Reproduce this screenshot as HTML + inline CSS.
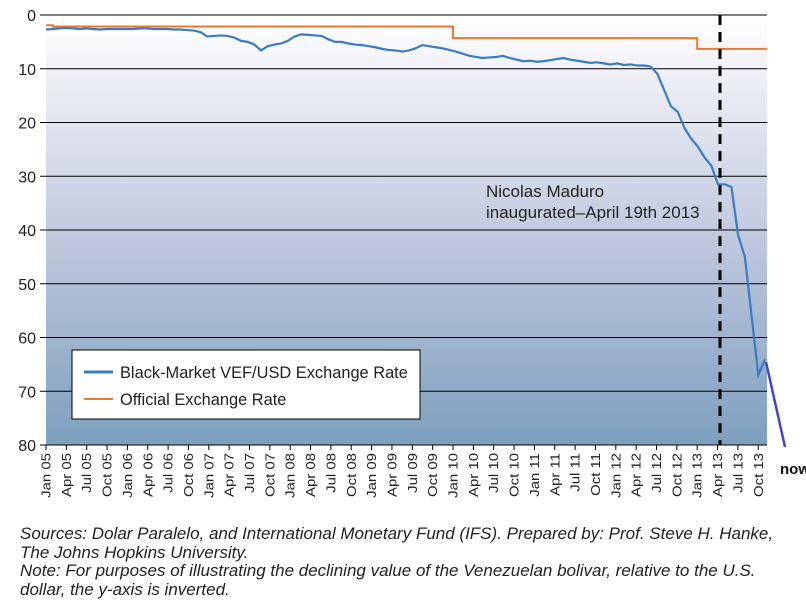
<!DOCTYPE html>
<html><head><meta charset="utf-8"><style>
body{margin:0;background:#fff;width:806px;height:604px;overflow:hidden;font-family:"Liberation Sans",sans-serif}
svg text{font-family:"Liberation Sans",sans-serif}
.src{position:absolute;left:20px;font-style:italic;font-size:17px;color:#222;line-height:18.5px;white-space:nowrap}
</style></head><body>
<svg id="chart" width="806" height="604" style="position:absolute;left:0;top:0">
<defs><linearGradient id="bg" x1="0" y1="0" x2="0" y2="1"><stop offset="0" stop-color="#ffffff"/><stop offset="0.5" stop-color="#c3cadf"/><stop offset="1" stop-color="#7d9fbd"/></linearGradient></defs>
<rect x="46" y="15" width="721" height="430" fill="url(#bg)"/>
<g id="grid"></g><g id="yt"></g><g id="xt"></g><g id="series"></g>
<line x1="720" y1="15" x2="720" y2="445" stroke="#000" stroke-width="3" stroke-dasharray="10,7"/>
<text x="486" y="197" font-size="17" fill="#222">Nicolas Maduro</text>
<text x="486" y="218" font-size="17" fill="#222">inaugurated–April 19th 2013</text>
<g>
<rect x="72" y="350" width="348" height="69" fill="#fff" stroke="#000" stroke-width="1"/>
<line x1="84" y1="372" x2="113" y2="372" stroke="#3a7cc4" stroke-width="3"/>
<text x="120" y="378" font-size="16.4" fill="#222">Black-Market VEF/USD Exchange Rate</text>
<line x1="84" y1="399" x2="113" y2="399" stroke="#e87b2e" stroke-width="2"/>
<text x="120" y="405" font-size="16.4" fill="#222">Official Exchange Rate</text>
</g>
<line x1="766" y1="362" x2="785" y2="447" stroke="#4444cc" stroke-width="2.5"/>
<text x="780" y="474" font-size="15" font-weight="bold" fill="#111">now</text>
</svg>
<div class="src" style="top:525px">Sources: Dolar Paralelo, and International Monetary Fund (IFS). Prepared by: Prof. Steve H. Hanke,<br>The Johns Hopkins University.<br>Note: For purposes of illustrating the declining value of the Venezuelan bolivar, relative to the U.S.<br>dollar, the y-axis is inverted.</div>
<script>
const yTicks=[0,10,20,30,40,50,60,70,80];
const xLabels=["Jan 05","Apr 05","Jul 05","Oct 05","Jan 06","Apr 06","Jul 06","Oct 06","Jan 07","Apr 07","Jul 07","Oct 07","Jan 08","Apr 08","Jul 08","Oct 08","Jan 09","Apr 09","Jul 09","Oct 09","Jan 10","Apr 10","Jul 10","Oct 10","Jan 11","Apr 11","Jul 11","Oct 11","Jan 12","Apr 12","Jul 12","Oct 12","Jan 13","Apr 13","Jul 13","Oct 13"];
const blackMarket=[2.7,2.6,2.5,2.4,2.5,2.6,2.5,2.6,2.7,2.6,2.6,2.6,
2.6,2.6,2.5,2.5,2.6,2.6,2.6,2.7,2.7,2.8,2.9,3.2,
4.0,3.9,3.8,3.9,4.2,4.8,5.0,5.5,6.6,5.8,5.5,5.3,
4.8,4.0,3.6,3.7,3.8,3.9,4.5,5.0,5.0,5.3,5.5,5.6,
5.8,6.0,6.3,6.5,6.6,6.8,6.6,6.2,5.6,5.8,6.0,6.2,
6.5,6.8,7.2,7.6,7.8,8.0,7.9,7.8,7.6,8.0,8.3,8.6,
8.5,8.7,8.6,8.4,8.2,8.0,8.3,8.5,8.7,8.9,8.8,9.0,
9.2,9.0,9.3,9.2,9.4,9.4,9.6,11,14,17,18,21,
23,24.5,26.5,28,31.5,31.5,32,41,45,56,67,64];
const officialMonths=[0,1,60,96,106.3];
const officialRates=[1.9,2.15,4.3,6.3,6.3];
const X0=46,QW=20.35,Y0=15,YH=430;
const x=m=>X0+m*QW/3, y=v=>Y0+v/80*YH;
const ns="http://www.w3.org/2000/svg";
function mk(t,a,p){const e=document.createElementNS(ns,t);for(const k in a)e.setAttribute(k,a[k]);p.appendChild(e);return e;}
const grid=document.getElementById('grid'),yt=document.getElementById('yt'),xt=document.getElementById('xt'),se=document.getElementById('series');
yTicks.forEach(v=>{
 const l=mk('line',{x1:40,x2:767,y1:y(v),y2:y(v),stroke:'#000','stroke-width':1},grid);
 
 
 const t=mk('text',{x:36,y:y(v)+6,'text-anchor':'end','font-size':16,fill:'#222'},yt);t.textContent=v;
 
 
});
xLabels.forEach((s,i)=>{
 const px=x(i*3);
 const tk=mk('line',{x1:px,x2:px,y1:445,y2:450,stroke:'#000'},xt);
 
 
 const t=mk('text',{x:0,y:0,'text-anchor':'end','font-size':13,fill:'#222',transform:`translate(${px+4.5},453) rotate(-90) scale(1.15,1)`},xt);t.textContent=s;
 
 
});
let d='';
for(let i=0;i<officialMonths.length;i++){d+=(i?'H'+x(officialMonths[i])+'V':'M'+x(officialMonths[i])+',')+y(officialRates[i]);}
const o=mk('path',{d:d,fill:'none',stroke:'#e87b2e','stroke-width':2},se);


const b=mk('polyline',{points:blackMarket.map((v,i)=>x(i*106/(blackMarket.length-1))+','+y(v)).join(' '),fill:'none',stroke:'#3a7cc4','stroke-width':2.2},se);


</script>
</body></html>
